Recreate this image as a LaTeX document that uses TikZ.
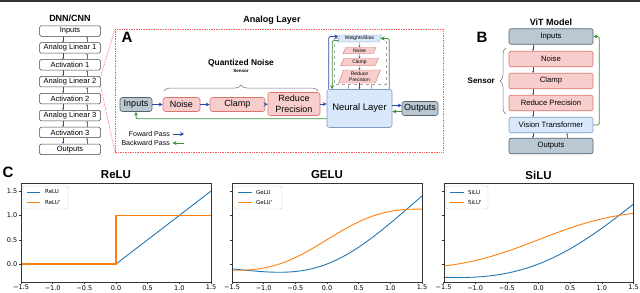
\documentclass[tikz,border=0pt]{standalone}
\usepackage{fontspec}
\setmainfont{Liberation Sans}
\newfontfamily\dvfont{DejaVu Sans}
\usetikzlibrary{arrows.meta,shapes.geometric,decorations.pathreplacing,calc}
\definecolor{fwd}{HTML}{2B46A8}
\definecolor{bwd}{HTML}{3F8F3F}
\definecolor{pinkf}{HTML}{F8CECC}
\definecolor{pinkd}{HTML}{D9756C}
\definecolor{bluef}{HTML}{DAE8FC}
\definecolor{blued}{HTML}{7E9CC8}
\definecolor{grayf}{HTML}{BAC8D3}
\definecolor{grayd}{HTML}{55636E}
\definecolor{mplblue}{HTML}{1F77B4}
\definecolor{mplorange}{HTML}{FF7F0E}
\definecolor{reddot}{HTML}{FF5A5A}
\begin{document}
\begin{tikzpicture}[x=1pt,y=-1pt,
  dnn/.style={draw=black!75, fill=white, rounded corners=1.5pt, minimum width=61pt, minimum height=10.5pt, inner sep=0pt, line width=0.5pt, font=\fontsize{7.5}{8}\selectfont},
  abox/.style={rounded corners=2.5pt, inner sep=0pt, line width=0.6pt, font=\fontsize{9}{11}\selectfont, align=center},
  graybox/.style={abox, fill=grayf, draw=grayd},
  pinkbox/.style={abox, fill=pinkf, draw=pinkd},
  lbluebox/.style={abox, fill=bluef, draw=blued},
  vbox/.style={minimum width=84pt, minimum height=15.5pt, rounded corners=2pt, inner sep=0pt, line width=0.6pt, font=\fontsize{7.7}{8}\selectfont},
  fa/.style={draw=fwd, line width=0.8pt, -{Stealth[length=4pt,width=4pt]}},
  ba/.style={draw=bwd, line width=0.8pt, -{Stealth[length=4pt,width=4pt]}},
  sfa/.style={draw=fwd, line width=0.4pt, -{Stealth[length=1.8pt,width=1.8pt]}},
  sba/.style={draw=bwd, line width=0.4pt, -{Stealth[length=1.8pt,width=1.8pt]}},
  para/.style={trapezium, trapezium left angle=70, trapezium right angle=110, trapezium stretches=true, inner sep=0pt, line width=0.4pt, font=\fontsize{5}{5.5}\selectfont, align=center},
  ttl/.style={font=\bfseries\fontsize{9}{10}\selectfont},
  panel/.style={font=\bfseries\fontsize{15}{16}\selectfont},
  ptitle/.style={font=\bfseries\fontsize{11.5}{12}\selectfont},
  tick/.style={font=\dvfont\fontsize{6.5}{7}\selectfont, inner sep=0pt},
  leg/.style={font=\dvfont\fontsize{5.5}{6}\selectfont, inner sep=0pt, anchor=west},
  brc/.style={draw=black!55, line width=0.5pt, decorate, decoration={brace, amplitude=6pt}},
  declare function={gelut(\x)=tanh(0.7978845*(\x+0.044715*\x*\x*\x));
    gelu(\x)=0.5*\x*(1+gelut(\x));
    gelud(\x)=0.5*(1+gelut(\x))+0.5*\x*(1-gelut(\x)*gelut(\x))*0.7978845*(1+0.134145*\x*\x);
    sig(\x)=1/(1+exp(-(\x)));
    silu(\x)=\x*sig(\x);
    silud(\x)=sig(\x)*(1+\x*(1-sig(\x)));}
]
\useasboundingbox (0,0) rectangle (640,292);
\fill[black!80] (0,0) rectangle (640,1.5);

% ---------- DNN/CNN column ----------
\node[ttl] (dnnt) at (70,18) {DNN/CNN};
\foreach \t [count=\i] in {Inputs,Analog Linear 1,Activation 1,Analog Linear 2,Activation 2,Analog Linear 3,Activation 3,Outputs}
  \node[dnn] (d\i) at (70,{31+(\i-1)*16.9}) {\t};
\foreach \i/\j in {1/2,2/3,3/4,4/5,5/6,6/7,7/8}{
  \draw[sfa] ([xshift=-7pt]d\i.south) -- ([xshift=-7pt]d\j.north);
  \draw[sba] ([xshift=17pt]d\j.north) -- ([xshift=17pt]d\i.south);
}

% ---------- Panel A ----------
\coordinate (Atl) at (115,29);
\coordinate (Abr) at (443,152);
\draw[reddot, densely dotted, line width=0.7pt] (Atl) rectangle (Abr);
\draw[reddot, densely dotted, line width=0.7pt] (d4.north east) -- (Atl);
\draw[reddot, densely dotted, line width=0.7pt] (d4.south east) -- (Atl |- Abr);
\node[ttl] (alt) at (272,20) {Analog Layer};
\node[panel] (labA) at (127,37) {A};

\node[font=\bfseries\fontsize{8.4}{9}\selectfont] (qn) at (241,63) {Quantized Noise};
\node[font=\bfseries\fontsize{4.5}{5}\selectfont] (qs) at (241,71) {Sensor};
\draw[brc] (164,91) -- (318,91);

\node[graybox, minimum width=32pt, minimum height=14pt] (ain) at (136,104.5) {Inputs};
\node[pinkbox, minimum width=37pt, minimum height=14pt] (anoise) at (181.5,104.5) {Noise};
\node[pinkbox, minimum width=55pt, minimum height=14pt] (aclamp) at (237.5,104.5) {Clamp};
\node[pinkbox, minimum width=52pt, minimum height=23pt] (ared) at (294,104) {Reduce\\Precision};
\node[lbluebox, minimum width=65pt, minimum height=38pt, font=\fontsize{9.5}{11}\selectfont] (neural) at (359.5,108.5) {Neural Layer};
\node[graybox, minimum width=36pt, minimum height=14pt] (aout) at (420,108.5) {Outputs};

\draw[fa] (ain) -- (anoise);
\draw[fa] (anoise) -- (aclamp);
\draw[fa] (aclamp) -- (ared);
\draw[fa] (ared.east) -- (ared.east -| neural.west);
\draw[fa] ([yshift=3pt]neural.east) -- ([yshift=3pt]aout.west);
\draw[ba] ([yshift=-3pt]aout.west) -- ([yshift=-3pt]neural.east);
\draw[ba, rounded corners=2pt] ([yshift=9pt]neural.south west) -| (ain.south);

% legend of passes
\node[anchor=east, font=\fontsize{7}{8}\selectfont, inner sep=0pt] (lf) at (170,134) {Foward Pass};
\node[anchor=east, font=\fontsize{7}{8}\selectfont, inner sep=0pt] (lb) at (170,143) {Backward Pass};
\draw[fa] ([xshift=2.5pt]lf.east) -- ([xshift=14pt]lf.east);
\draw[ba] ([xshift=14pt]lb.east) -- ([xshift=2.5pt]lb.east);

% weight quantization stack
\draw[black!35, dashed, line width=0.4pt] (334,38) rectangle (386,84);
\draw[black!35, line width=0.5pt] (348,84) -- (348,89.5);
\draw[black!35, line width=0.5pt] (371,84) -- (371,89.5);
\node[para, fill=bluef, draw=blued, minimum width=44pt, minimum height=7pt] (wb) at (359.5,38.5) {Weights/Bias};
\node[para, fill=pinkf, draw=pinkd, minimum width=33pt, minimum height=6.5pt] (sn) at (359.5,50.5) {Noise};
\node[para, fill=pinkf, draw=pinkd, minimum width=38pt, minimum height=7.5pt] (sc) at (359.5,62) {Clamp};
\node[para, fill=pinkf, draw=pinkd, minimum width=42pt, minimum height=13pt] (sr) at (359.5,76.5) {Reduce\\Precision};
\draw[sfa] (wb) -- (sn);
\draw[sfa] (sn) -- (sc);
\draw[sfa] (sc) -- (sr);
\draw[sfa] (sr.south) -- (sr.south |- neural.north);
\draw[fa, rounded corners=2pt] ([xshift=2pt]neural.north west) |- ([yshift=2pt]wb.west);
\draw[ba, rounded corners=2pt] ([yshift=-2pt]wb.west) -| ([xshift=5.5pt]neural.north west);
\draw[ba, rounded corners=2pt] ([xshift=-3pt]neural.north east) |- (wb.east);

% ---------- Panel B ----------
\node[panel] (labB) at (482,37) {B};
\node[ttl] (vitt) at (551,22) {ViT Model};
\node[vbox, fill=grayf, draw=grayd] (bin) at (551,36.5) {Inputs};
\node[vbox, fill=pinkf, draw=pinkd] (bno) at (551,59) {Noise};
\node[vbox, fill=pinkf, draw=pinkd] (bcl) at (551,81) {Clamp};
\node[vbox, fill=pinkf, draw=pinkd] (bre) at (551,103) {Reduce Precision};
\node[vbox, fill=bluef, draw=blued] (bvit) at (551,125) {Vision Transformer};
\node[vbox, fill=grayf, draw=grayd] (bout) at (551,146) {Outputs};
\draw[sfa] ([xshift=-18pt]bin.south) -- ([xshift=-18pt]bno.north);
\draw[sfa] ([xshift=-18pt]bno.south) -- ([xshift=-18pt]bcl.north);
\draw[sfa] ([xshift=-18pt]bcl.south) -- ([xshift=-18pt]bre.north);
\draw[sfa] ([xshift=-18pt]bre.south) -- ([xshift=-18pt]bvit.north);
\draw[sfa] ([xshift=-18pt]bvit.south) -- ([xshift=-18pt]bout.north);
\draw[sba] ([xshift=16pt]bout.north) -- ([xshift=16pt]bvit.south);
\draw[ba, rounded corners=2pt] (bvit.east) -- ++(6,0) |- (bin.east);
\draw[brc] (506,114) -- (506,48);
\node[anchor=east, font=\bfseries\fontsize{8}{9}\selectfont, inner sep=0pt] (bs) at (495,80.5) {Sensor};

% ---------- Panel C ----------
\node[panel] (labC) at (8,172) {C};
\node[ptitle] (t1) at (116,175) {ReLU};
\node[ptitle] (t2) at (327,175) {GELU};
\node[ptitle] (t3) at (538.5,175) {SiLU};

\foreach \cx/\lab in {116/1,327/0,538.5/0}{
\begin{scope}[shift={(\cx,264)}, x=63.33pt, y=48.6pt]
  \foreach \v/\l in {-1.5/−1.5,-1/−1.0,-0.5/−0.5,0/0.0,0.5/0.5,1/1.0,1.5/1.5}{
    \draw[black!80, line width=0.4pt] (\v,-0.37) -- ++(0,-2pt);
    \node[tick, anchor=north] at ([yshift=-3pt]\v,-0.37) {\l};
  }
  \foreach \v/\l in {0/0.0,0.5/0.5,1/1.0,1.5/1.5}{
    \draw[black!80, line width=0.4pt] (-1.5,\v) -- ++(-2pt,0);
    \ifnum\lab=1 \node[tick, anchor=east] at ([xshift=-3.5pt]-1.5,\v) {\l};\fi
  }
\end{scope}
}

% ReLU
\begin{scope}[shift={(116,264)}, x=63.33pt, y=48.6pt]
  \draw[mplblue, line width=0.9pt] (-1.5,0) -- (0,0) -- (1.5,1.5);
  \draw[mplorange, line width=1.1pt] (-1.5,0) -- (0,0) -- (0,1) -- (1.5,1);
  \draw[black!80, line width=0.6pt] (-1.5,-0.37) rectangle (1.5,1.667);
\end{scope}
% GELU
\begin{scope}[shift={(327,264)}, x=63.33pt, y=48.6pt]
  \draw[mplblue, line width=0.9pt, domain=-1.5:1.5, samples=80, smooth] plot (\x,{gelu(\x)});
  \draw[mplorange, line width=0.9pt, domain=-1.5:1.5, samples=80, smooth] plot (\x,{gelud(\x)});
  \draw[black!80, line width=0.6pt] (-1.5,-0.37) rectangle (1.5,1.667);
\end{scope}
% SiLU
\begin{scope}[shift={(538.5,264)}, x=63pt, y=48.6pt]
  \draw[mplblue, line width=0.9pt, domain=-1.5:1.5, samples=80, smooth] plot (\x,{silu(\x)});
  \draw[mplorange, line width=0.9pt, domain=-1.5:1.5, samples=80, smooth] plot (\x,{silud(\x)});
  \draw[black!80, line width=0.6pt] (-1.5,-0.37) rectangle (1.5,1.667);
\end{scope}

% legends
\draw[rounded corners=1.5pt, draw=black!20, fill=white, line width=0.4pt] (23,186) rectangle (68,209);
\draw[mplblue, line width=0.9pt] (27,192) -- (40,192);
\draw[mplorange, line width=0.9pt] (27,202.5) -- (40,202.5);
\node[leg] (lg1a) at (45,192) {ReLU};
\node[leg] (lg1b) at (45,202.5) {ReLU\textquotesingle};

\draw[rounded corners=1.5pt, draw=black!20, fill=white, line width=0.4pt] (234,186) rectangle (282,209);
\draw[mplblue, line width=0.9pt] (238,192) -- (252,192);
\draw[mplorange, line width=0.9pt] (238,202.5) -- (252,202.5);
\node[leg] (lg2a) at (256,192) {GeLU};
\node[leg] (lg2b) at (256,202.5) {GeLU\textquotesingle};

\draw[rounded corners=1.5pt, draw=black!20, fill=white, line width=0.4pt] (446,186) rectangle (488,209);
\draw[mplblue, line width=0.9pt] (450,192) -- (464,192);
\draw[mplorange, line width=0.9pt] (450,202.5) -- (464,202.5);
\node[leg] (lg3a) at (468,192) {SiLU};
\node[leg] (lg3b) at (468,202.5) {SiLU\textquotesingle};
\end{tikzpicture}
\end{document}
